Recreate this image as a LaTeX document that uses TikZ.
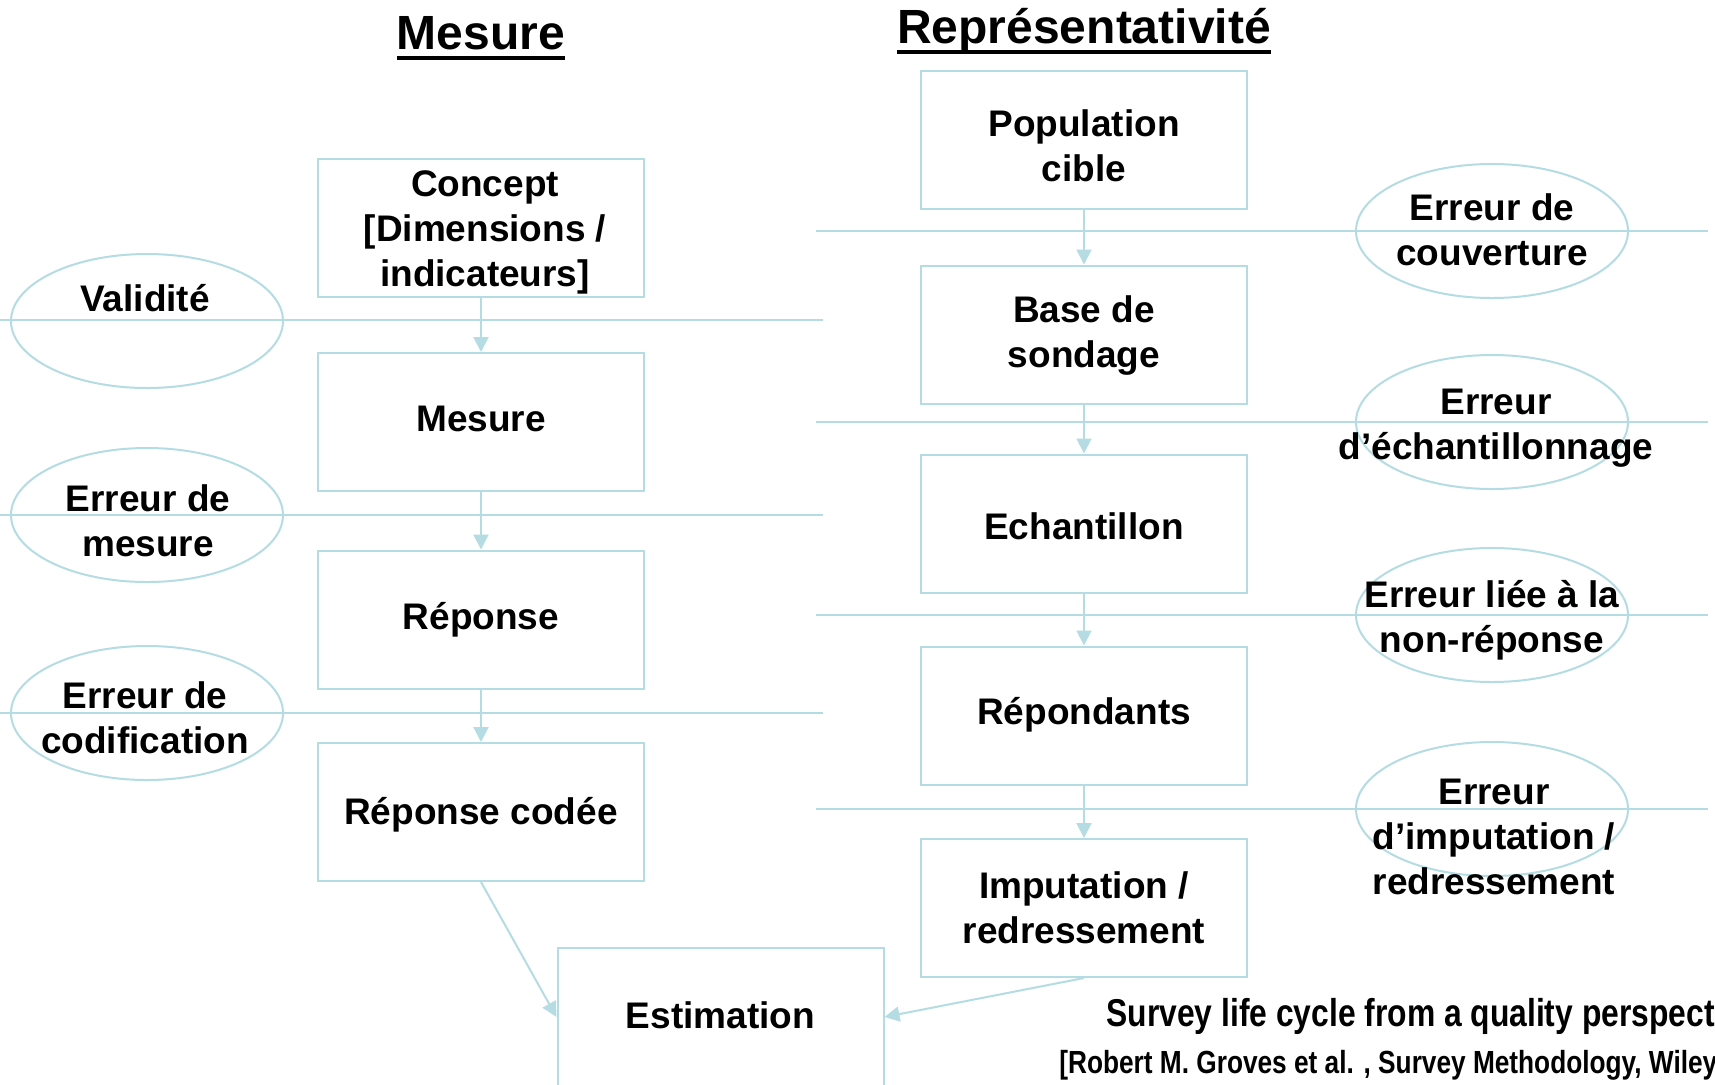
\documentclass[tikz,border=0pt]{standalone}
\usepackage{fontspec}
\usepackage{graphicx}
\setmainfont{Liberation Sans}
\usetikzlibrary{shapes.geometric,arrows.meta}
\definecolor{lineblue}{RGB}{180,220,226}
\tikzset{
  box/.style={draw=lineblue, line width=1pt, rectangle, minimum width=163pt, minimum height=69pt,
    inner sep=0pt},
  boxtext/.style={inner sep=0pt, align=center, font=\fontsize{18.5pt}{22.5pt}\selectfont\bfseries},
  errell/.style={draw=lineblue, line width=1pt, ellipse, minimum width=136pt, minimum height=67pt, inner sep=0pt},
  errtext/.style={inner sep=0pt, align=center, font=\fontsize{18.5pt}{22.5pt}\selectfont\bfseries},
  sepline/.style={draw=lineblue, line width=1pt},
  flow/.style={draw=lineblue, line width=1pt, -{Triangle[width=7.5pt,length=7.5pt]}},
  titletext/.style={inner sep=0pt, anchor=base, font=\fontsize{24pt}{28pt}\selectfont\bfseries},
  captext/.style={inner sep=0pt, anchor=base west}
}
\begin{document}
\begin{tikzpicture}[x=0.5pt,y=-0.5pt]
\useasboundingbox (0,0) rectangle (1715,1084);
\clip (0,0) rectangle (1715,1084);
\fill[white] (0,0) rectangle (1715,1084);

% separator lines (left)
\coordinate (la1) at (0,320);   \coordinate (lb1) at (823,320);
\coordinate (la2) at (0,515);   \coordinate (lb2) at (823,515);
\coordinate (la3) at (0,713);   \coordinate (lb3) at (823,713);
% separator lines (right)
\coordinate (ra1) at (816,231); \coordinate (rb1) at (1708,231);
\coordinate (ra2) at (816,422); \coordinate (rb2) at (1708,422);
\coordinate (ra3) at (816,615); \coordinate (rb3) at (1708,615);
\coordinate (ra4) at (816,809); \coordinate (rb4) at (1708,809);
\foreach \i in {1,2,3} {\draw[sepline] (la\i) -- (lb\i);}
\foreach \i in {1,2,3,4} {\draw[sepline] (ra\i) -- (rb\i);}

% titles
\node[titletext] (tmes) at (481,49) {Mesure};
\draw[line width=2pt] ([yshift=-4.5pt]tmes.base west) -- ([yshift=-4.5pt]tmes.base east);
\node[titletext] (trep) at (1084,43) {Représentativité};
\draw[line width=2pt] ([yshift=-4.5pt]trep.base west) -- ([yshift=-4.5pt]trep.base east);

% left column boxes
\node[box] (concept) at (481,227.5) {};
\node[box] (mesure) at (481,422) {};
\node[box] (reponse) at (481,619.5) {};
\node[box] (codee) at (481,812) {};
\node[box] (estim) at (720.5,1017) {};
\node[boxtext] (tconcept) at (485,232) {Concept\\{[}Dimensions /\\indicateurs{]}};
\node[boxtext] (tmesure) at (481,419) {Mesure};
\node[boxtext] (treponse) at (481,619.5) {Réponse};
\node[boxtext] (tcodee) at (481,815) {Réponse codée};
\node[boxtext] (testim) at (720.5,1015) {Estimation};

% right column boxes
\node[box] (pop) at (1084,140) {};
\node[box] (base) at (1084,334.5) {};
\node[box] (echant) at (1084,523.5) {};
\node[box] (repond) at (1084,715.5) {};
\node[box] (imput) at (1084,908) {};
\node[boxtext] (tpop) at (1084,145.5) {Population\\cible};
\node[boxtext] (tbase) at (1084,335.5) {Base de\\sondage};
\node[boxtext] (techant) at (1084,526.5) {Echantillon};
\node[boxtext] (trepond) at (1084,714.5) {Répondants};
\node[boxtext] (timput) at (1084,907.5) {Imputation /\\redressement};

% ellipses left
\node[errell] (evalid) at (147,321) {};
\node[errell] (emes) at (147,515) {};
\node[errell] (ecod) at (147,713) {};
% ellipses right
\node[errell] (ecouv) at (1492,231) {};
\node[errell] (eech) at (1492,422) {};
\node[errell] (enr) at (1492,615) {};
\node[errell] (eimp) at (1492,809) {};

% ellipse texts
\node[errtext] (tvalid) at (145,298) {Validité};
\node[errtext] (tmes2) at (148,520.5) {Erreur de\\mesure};
\node[errtext] (tcod) at (145,717.5) {Erreur de\\codification};
\node[errtext] (tcouv) at (1492,230) {Erreur de\\couverture};
\node[errtext] (tech) at (1496,428.5) {Erreur\\d’échantillonnage};
\node[errtext] (tnr) at (1492,620) {Erreur liée à la\\non-réponse};
\node[errtext] (timp) at (1494,837) {Erreur\\d’imputation /\\redressement};

% flow arrows
\draw[flow] (concept.south) -- (mesure.north);
\draw[flow] (mesure.south) -- (reponse.north);
\draw[flow] (reponse.south) -- (codee.north);
\draw[flow] (codee.south) -- (estim.west);
\draw[flow] (pop.south) -- (base.north);
\draw[flow] (base.south) -- (echant.north);
\draw[flow] (echant.south) -- (repond.north);
\draw[flow] (repond.south) -- (imput.north);
\draw[flow] (imput.south) -- (estim.east);

% caption
\node[captext] (cap1) at (1106,1026) {\scalebox{0.82}[1]{\bfseries\fontsize{19.4pt}{23pt}\selectfont Survey life cycle from a quality perspective}};
\node[captext] (cap2) at (1059,1073) {\scalebox{0.82}[1]{\bfseries\fontsize{16pt}{19pt}\selectfont [Robert M. Groves et al. , Survey Methodology, Wiley, 2004]}};
\end{tikzpicture}
\end{document}
